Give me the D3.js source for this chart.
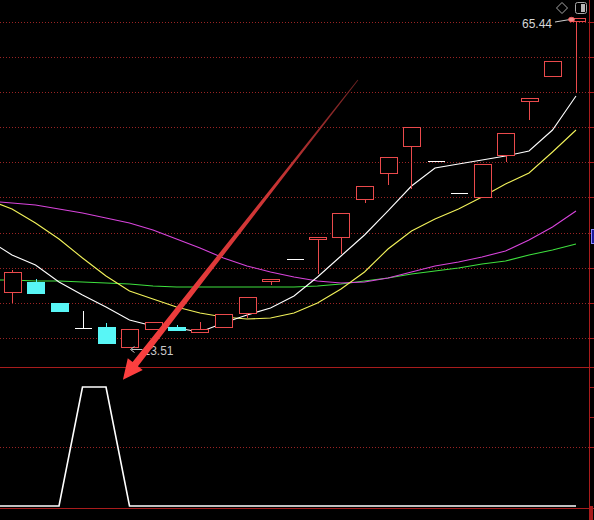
<!DOCTYPE html>
<html>
<head>
<meta charset="utf-8">
<script src="https://cdn.jsdelivr.net/npm/d3@7/dist/d3.min.js"></script>
<style>
  html, body { margin: 0; padding: 0; background: #000; overflow: hidden; }
  svg { display: block; }
</style>
</head>
<body>
<svg id="chart" width="594" height="520"></svg>
<script>
// ---- daily bars (bar 1 .. 25) ----
const barIndex = d3.range(1, 26);
const openP  = [22.19, 23.77, 20.45, 16.51, 16.67, 13.51, 16.35, 16.67, 15.88, 16.67, 18.88, 23.93, 27.40, 30.56, 30.87, 36.87, 40.97, 45.24, 42.87, 37.82, 37.19, 43.82, 52.34, 56.28, 64.97];
const closeP = [25.35, 22.03, 19.19, 16.51, 14.14, 16.35, 17.46, 16.19, 16.35, 18.72, 21.40, 24.24, 27.40, 30.87, 34.66, 38.92, 43.50, 48.23, 42.87, 37.82, 42.39, 47.29, 52.81, 58.65, 65.44];
const highP  = [25.82, 24.40, 20.45, 19.35, 17.46, 16.35, 17.46, 17.14, 17.61, 18.72, 21.40, 24.24, 27.40, 30.87, 34.66, 38.92, 43.50, 48.23, 42.87, 37.82, 42.39, 47.29, 52.81, 58.65, 65.44];
const lowP   = [20.61, 22.03, 19.19, 16.51, 14.14, 13.51, 16.35, 16.19, 15.88, 16.67, 18.25, 23.45, 27.40, 25.19, 28.35, 36.40, 39.24, 38.61, 42.87, 37.82, 37.19, 42.87, 49.50, 56.28, 53.76];

// ---- moving averages and signal (bar 0 .. 25; bar 0 lies just left of the view) ----
const lineIndex = d3.range(0, 26);
const ma5  = [30.40, 28.03, 26.45, 23.77, 21.72, 19.82, 17.77, 16.82, 16.51, 15.88, 17.30, 18.56, 19.67, 21.56, 24.56, 27.87, 31.19, 34.98, 38.92, 41.76, 42.39, 43.02, 43.66, 44.45, 47.76, 53.13];
const ma10 = [36.71, 35.29, 33.08, 30.56, 27.56, 24.72, 22.35, 21.09, 19.82, 18.88, 18.25, 17.93, 18.09, 18.88, 20.45, 22.66, 25.35, 28.98, 31.82, 33.71, 35.29, 37.19, 39.24, 40.97, 44.29, 47.76];
const ma20 = [36.55, 36.24, 35.92, 35.29, 34.66, 33.87, 33.08, 31.98, 30.56, 29.14, 27.56, 26.30, 25.35, 24.56, 23.93, 23.61, 23.77, 24.40, 25.35, 26.30, 26.93, 27.72, 28.66, 30.40, 32.45, 34.98];
const ma60 = [24.09, 24.09, 23.93, 23.93, 23.77, 23.61, 23.45, 23.14, 22.98, 22.98, 22.98, 22.98, 22.98, 22.98, 23.14, 23.45, 23.93, 24.40, 25.03, 25.51, 25.98, 26.61, 27.08, 28.03, 28.82, 29.77];
const signal = [0, 0, 0, 0, 1, 1, 0, 0, 0, 0, 0, 0, 0, 0, 0, 0, 0, 0, 0, 0, 0, 0, 0, 0, 0, 0];

// callout arrow, in bar / value space
const calloutFrom = { bar: 15.72, price: 55.65 };
const calloutTo   = { bar: 5.72, signal: 1.06 };

// ---- layout ----
const W = 594, H = 520;
const plotRight = 589;
const mainTop = 0, mainBottom = 367;
const subTop = 367, subBottom = 508;

const svg = d3.select("#chart");
svg.append("rect").attr("width", W).attr("height", H).attr("fill", "#000");

const x = d3.scaleLinear().domain([0, 25]).range([-11.5, 576]);
const y = d3.scaleLinear().domain([13.51, 65.44]).range([347, 18]);
const ySig = d3.scaleLinear().domain([0, 1]).range([506, 387]);
const bodyW = 17;

const RED = "#ea4a4c", CYAN = "#58f6f6", GRID = "#9a2424", FRAME = "#a81c1c";

const defs = svg.append("defs");
defs.append("clipPath").attr("id", "clipMain")
  .append("rect").attr("x", 0).attr("y", mainTop).attr("width", plotRight).attr("height", mainBottom - mainTop);
defs.append("clipPath").attr("id", "clipSub")
  .append("rect").attr("x", 0).attr("y", subTop).attr("width", plotRight).attr("height", subBottom - subTop);
const grad = defs.append("linearGradient").attr("id", "arrowGrad")
  .attr("gradientUnits", "userSpaceOnUse")
  .attr("x1", x(calloutFrom.bar)).attr("y1", y(calloutFrom.price))
  .attr("x2", x(calloutTo.bar)).attr("y2", ySig(calloutTo.signal));
grad.append("stop").attr("offset", "0%").attr("stop-color", "#6e2222");
grad.append("stop").attr("offset", "35%").attr("stop-color", "#c83434");
grad.append("stop").attr("offset", "100%").attr("stop-color", "#ff4040");

// ---- grid ----
const gridG = svg.append("g");
const gridCount = 10, gridFirst = 21.7, gridStep = 35.14;
d3.range(gridCount).forEach(k => {
  const gy = Math.round(gridFirst + k * gridStep) + 0.5;
  gridG.append("line").attr("x1", 0).attr("x2", plotRight).attr("y1", gy).attr("y2", gy)
    .attr("stroke", GRID).attr("stroke-dasharray", "1 2");
  gridG.append("line").attr("x1", plotRight).attr("x2", W).attr("y1", gy).attr("y2", gy)
    .attr("stroke", FRAME);
});
const subMid = Math.round(ySig(0.5)) + 0.5;
gridG.append("line").attr("x1", 0).attr("x2", plotRight).attr("y1", subMid).attr("y2", subMid)
  .attr("stroke", GRID).attr("stroke-dasharray", "1 2");
[ySig(0.5), ySig(0.75), ySig(1)].forEach(v => {
  const gy = Math.round(v) + 0.5;
  gridG.append("line").attr("x1", plotRight).attr("x2", W).attr("y1", gy).attr("y2", gy).attr("stroke", FRAME);
});

// frame lines
gridG.append("line").attr("x1", 0).attr("x2", W).attr("y1", mainBottom + 0.5).attr("y2", mainBottom + 0.5).attr("stroke", FRAME);
gridG.append("line").attr("x1", 0).attr("x2", W).attr("y1", subBottom + 0.5).attr("y2", subBottom + 0.5).attr("stroke", FRAME);
gridG.append("line").attr("x1", plotRight + 0.5).attr("x2", plotRight + 0.5).attr("y1", 0).attr("y2", H).attr("stroke", FRAME);
gridG.append("rect").attr("x", plotRight + 1).attr("y", subBottom - 2).attr("width", 3).attr("height", H - subBottom + 2).attr("fill", FRAME);

// ---- moving averages ----
const mainG = svg.append("g").attr("clip-path", "url(#clipMain)");
const maLine = d3.line().x((d, i) => x(lineIndex[i])).y(d => y(d));
[[ma60, "#3ee03e"], [ma20, "#d844dc"], [ma10, "#f2f25a"], [ma5, "#ffffff"]].forEach(([vals, col]) => {
  mainG.append("path").datum(vals).attr("d", maLine)
    .attr("fill", "none").attr("stroke", col).attr("stroke-width", 1.1);
});

// ---- candles ----
const bars = barIndex.map((b, i) => ({ b, o: openP[i], c: closeP[i], h: highP[i], l: lowP[i] }));
const candleG = mainG.append("g").attr("shape-rendering", "crispEdges");
bars.forEach(d => {
  const cx = Math.round(x(d.b)) + 0.5;
  const left = Math.round(x(d.b) - bodyW / 2) + 0.5;
  const yTop = Math.round(y(Math.max(d.o, d.c))) + 0.5;
  const yBot = Math.round(y(Math.min(d.o, d.c))) + 0.5;
  const yHi = Math.round(y(d.h)) + 0.5;
  const yLo = Math.round(y(d.l)) + 0.5;
  if (d.c === d.o) {
    // doji: flat tick with its full range
    if (yLo - yHi > 1) candleG.append("line").attr("x1", cx).attr("x2", cx).attr("y1", yHi).attr("y2", yLo).attr("stroke", "#fff");
    candleG.append("line").attr("x1", left).attr("x2", left + bodyW).attr("y1", yTop).attr("y2", yTop).attr("stroke", "#fff").attr("stroke-width", 1.5);
  } else if (d.c > d.o) {
    // rising bar: hollow red body
    if (yTop - yHi > 0.5) candleG.append("line").attr("x1", cx).attr("x2", cx).attr("y1", yHi).attr("y2", yTop).attr("stroke", RED);
    if (yLo - yBot > 0.5) candleG.append("line").attr("x1", cx).attr("x2", cx).attr("y1", yBot).attr("y2", yLo).attr("stroke", RED);
    candleG.append("rect").attr("x", left).attr("y", yTop).attr("width", bodyW).attr("height", Math.max(yBot - yTop, 2))
      .attr("fill", "#000").attr("stroke", RED).attr("stroke-width", 1.3);
  } else {
    // falling bar: solid cyan body
    candleG.append("line").attr("x1", cx).attr("x2", cx).attr("y1", yHi).attr("y2", yLo).attr("stroke", CYAN);
    candleG.append("rect").attr("x", left - 0.5).attr("y", yTop - 0.5).attr("width", bodyW + 1).attr("height", Math.max(yBot - yTop + 1, 3))
      .attr("fill", CYAN);
  }
});

// ---- extreme labels ----
const font = "'Liberation Sans', Arial, sans-serif";
const hiIdx = d3.maxIndex(highP), loIdx = d3.minIndex(lowP);
const hiVal = highP[hiIdx], loVal = lowP[loIdx];
const hiX = x(barIndex[hiIdx]), hiY = y(hiVal);
const loX = x(barIndex[loIdx]), loY = y(loVal);

const lab = svg.append("g");
lab.append("rect").attr("x", hiX - 56).attr("y", hiY - 3).attr("width", 50).attr("height", 14).attr("fill", "#000");
lab.append("text").attr("x", hiX - 24).attr("y", hiY + 10).attr("text-anchor", "end")
  .attr("font-family", font).attr("font-size", 12).attr("fill", "#d6d6d6").text(hiVal.toFixed(2));
lab.append("line").attr("x1", hiX - 21).attr("y1", hiY + 4).attr("x2", hiX - 6).attr("y2", hiY + 1.5)
  .attr("stroke", "#d0d0d0").attr("stroke-width", 1);
lab.append("ellipse").attr("cx", hiX - 4.5).attr("cy", hiY + 1.5).attr("rx", 3).attr("ry", 2.2)
  .attr("fill", "#f08a8a").attr("stroke", "#ff5a5a").attr("stroke-width", 0.8);

const ax0 = loX + 13, ax1 = loX + 1, ay = loY + 2.5;
lab.append("path").attr("d", `M${ax0},${ay}H${ax1 + 1}M${ax1 + 4},${ay - 3}L${ax1},${ay}L${ax1 + 4},${ay + 3}`)
  .attr("fill", "none").attr("stroke", "#c4c4c4").attr("stroke-width", 1);
lab.append("text").attr("x", loX + 14).attr("y", loY + 7.5)
  .attr("font-family", font).attr("font-size", 12).attr("fill", "#c8c8c8").text(loVal.toFixed(2));

// ---- signal panel ----
const subG = svg.append("g").attr("clip-path", "url(#clipSub)");
subG.append("path").datum(signal)
  .attr("d", d3.line().x((d, i) => x(lineIndex[i])).y(d => ySig(d)))
  .attr("fill", "none").attr("stroke", "#fff").attr("stroke-width", 1.6);

// ---- callout arrow ----
(function () {
  const sx = x(calloutFrom.bar), sy = y(calloutFrom.price);
  const tx = x(calloutTo.bar), ty = ySig(calloutTo.signal);
  const len = Math.hypot(tx - sx, ty - sy);
  const ux = (tx - sx) / len, uy = (ty - sy) / len;
  const nx = -uy, ny = ux;
  const headLen = 20, headHalf = 9.5, tailHalf = 0.4, neckHalf = 3.4;
  const bx = tx - ux * headLen, by = ty - uy * headLen;
  const pts = [
    [sx + nx * tailHalf, sy + ny * tailHalf],
    [bx + nx * neckHalf, by + ny * neckHalf],
    [bx + nx * headHalf, by + ny * headHalf],
    [tx, ty],
    [bx - nx * headHalf, by - ny * headHalf],
    [bx - nx * neckHalf, by - ny * neckHalf],
    [sx - nx * tailHalf, sy - ny * tailHalf]
  ];
  svg.append("path").attr("d", "M" + pts.map(p => p.join(",")).join("L") + "Z")
    .attr("fill", "url(#arrowGrad)");
})();

// ---- toolbar glyphs ----
const tb = svg.append("g").attr("fill", "none").attr("stroke", "#a8a8a8").attr("stroke-width", 1);
tb.append("path").attr("d", "M562,2.5L567.5,8L562,13.5L556.5,8Z");
tb.append("rect").attr("x", 575.5).attr("y", 2.5).attr("width", 11).attr("height", 11).attr("rx", 2);
tb.append("rect").attr("x", 581).attr("y", 4).attr("width", 4).attr("height", 8).attr("fill", "#b8b8b8").attr("stroke", "none");
svg.append("rect").attr("x", 591.5).attr("y", 229.5).attr("width", 4).attr("height", 14)
  .attr("fill", "#1c1c9a").attr("stroke", "#8888ff").attr("stroke-width", 1);
</script>
</body>
</html>
